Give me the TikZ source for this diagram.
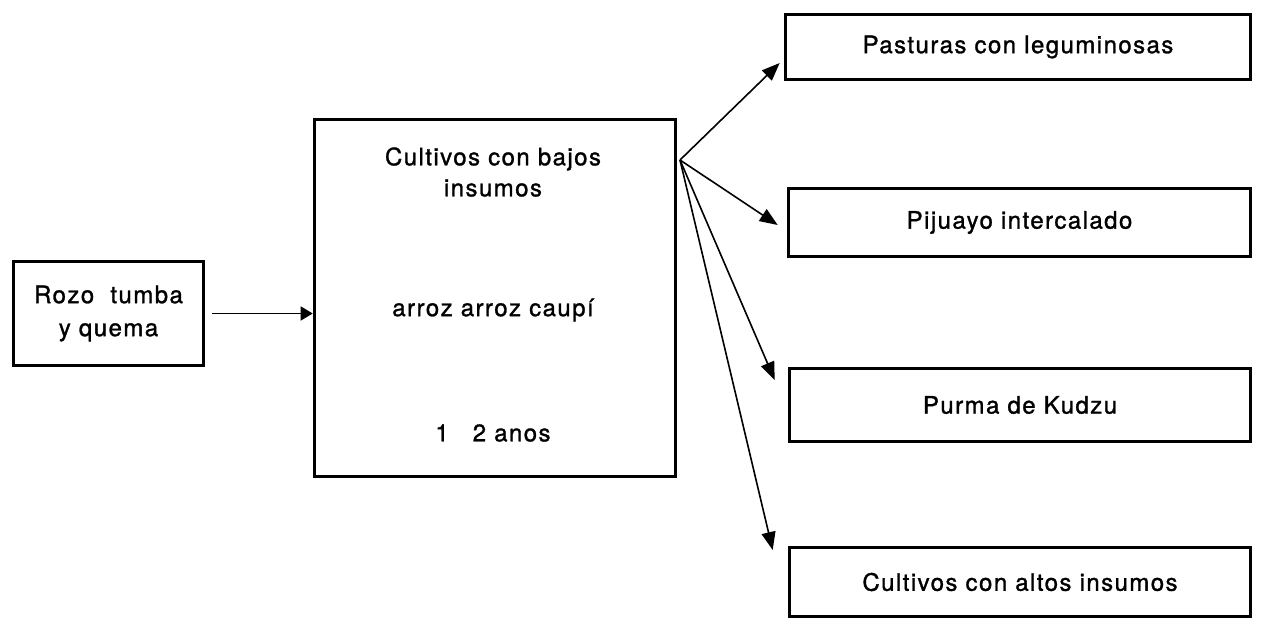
\documentclass[tikz,border=0pt]{standalone}
\usepackage{fontspec}
\setmainfont[LetterSpace=6,FakeBold=1.2]{TeX Gyre Heros}
\usetikzlibrary{positioning,arrows.meta}

\begin{document}
\begin{tikzpicture}[x=1pt, y=-1pt,
    boxnode/.style={rectangle, draw=black, line width=3.6pt, inner sep=0pt, align=center, font=\fontsize{24}{33}\selectfont},
    txtnode/.style={align=center, font=\fontsize{24}{31}\selectfont},
    flow/.style={draw=black, line width=1.6pt, -{Triangle[length=18pt,width=14pt]}}
    ]
    \useasboundingbox (0,0) rectangle (1264,621);
        %Nodes
        \node[boxnode, minimum width=190pt, minimum height=104pt]
            (rozo)  at (108.5,313.5)    {Rozo~ tumba\\y quema};
        \node[boxnode, minimum width=361pt, minimum height=357pt]
            (main)  at (495,298)        {};
        \node[txtnode]
            (bajos) at (493,172)        {Cultivos con bajos\\insumos};
        \node[txtnode]
            (arroz) at (493,310)        {arroz arroz caupí};
        \node[txtnode]
            (anos)  at (493,433)        {1\quad 2 anos};
        \node[boxnode, minimum width=465pt, minimum height=65pt]
            (past)  at (1018,47)        {Pasturas con leguminosas};
        \node[boxnode, minimum width=462pt, minimum height=68pt]
            (pij)   at (1019.5,222.5)   {Pijuayo intercalado};
        \node[boxnode, minimum width=461pt, minimum height=73pt]
            (purma) at (1020,405)       {Purma de Kudzu};
        \node[boxnode, minimum width=461pt, minimum height=69pt]
            (altos) at (1020,582)       {Cultivos con altos insumos};
        \coordinate (fan) at (680,160);

        %Lines
        \draw[flow, -{Triangle[length=12pt,width=14pt]}, shorten <=7pt]
            (rozo.east) -- (rozo.east -| main.west);
        \draw[flow] (fan) -- ([xshift=-4pt,yshift=-16pt]past.west);
        \draw[flow] (fan) -- ([xshift=-9pt,yshift=-2.5pt]pij.west);
        \draw[flow] (fan) -- ([xshift=-13pt,yshift=25pt]purma.west);
        \draw[flow] (fan) -- ([xshift=-15pt,yshift=32pt]altos.west);
    \end{tikzpicture}
\end{document}
